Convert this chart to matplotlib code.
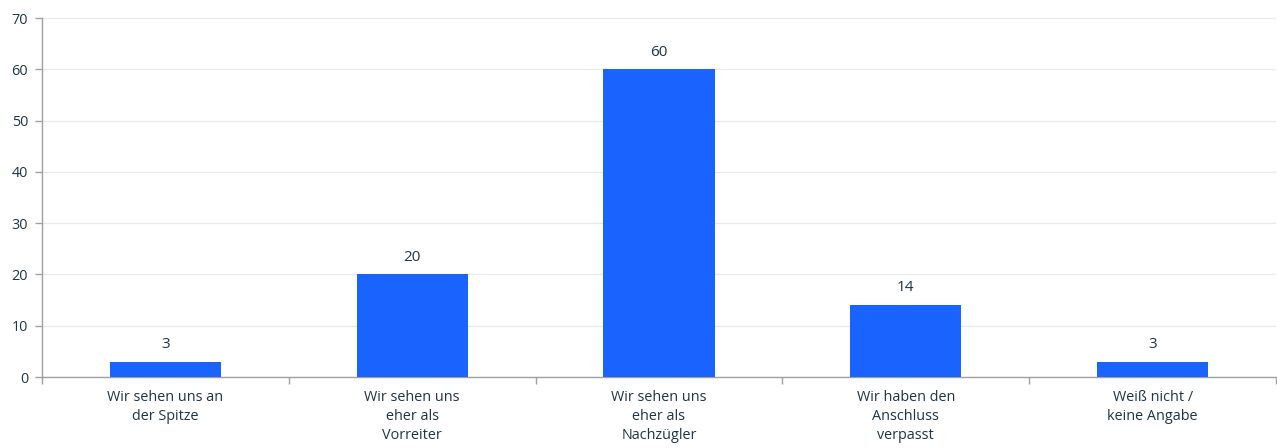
import matplotlib.pyplot as plt
import numpy as np

categories = [
    "Wir sehen uns an\nder Spitze",
    "Wir sehen uns\neher als\nVorreiter",
    "Wir sehen uns\neher als\nNachzügler",
    "Wir haben den\nAnschluss\nverpasst",
    "Weiß nicht /\nkeine Angabe",
]
values = [3, 20, 60, 14, 3]

text_color = "#1e3440"
bar_color = "#1a63ff"

plt.rcParams["font.family"] = ["Open Sans", "DejaVu Sans"]

fig = plt.figure(figsize=(12.77, 4.48), dpi=100)
ax = fig.add_axes([42 / 1277, 71 / 448, 1234 / 1277, 359 / 448])

x = np.arange(len(categories))
bars = ax.bar(x, values, width=0.45, color=bar_color, zorder=3)

for xi, v in zip(x, values):
    ax.text(xi, v + 1.9, str(v), ha="center", va="bottom",
            fontsize=11, color=text_color)

ax.set_xlim(-0.5, len(categories) - 0.5)
ax.set_ylim(0, 70)
ax.set_yticks(range(0, 71, 10))
ax.grid(axis="y", color="#e6e8ec", linewidth=0.9, zorder=0)

ax.set_xticks(x)
ax.set_xticklabels(categories, fontsize=10.4, color=text_color, linespacing=1.4)
ax.set_xticks(np.arange(-0.5, len(categories)), minor=True)
ax.tick_params(axis="x", which="major", length=0, pad=9)
ax.tick_params(axis="x", which="minor", length=5, color="#a0a0a0", width=1)
ax.tick_params(axis="y", length=5, color="#a0a0a0", width=1,
               labelsize=10.4, labelcolor=text_color, pad=5)

for side in ["top", "right"]:
    ax.spines[side].set_visible(False)
for side in ["left", "bottom"]:
    ax.spines[side].set_color("#a0a0a0")
    ax.spines[side].set_linewidth(1)

fig.savefig("out.png", dpi=100)
